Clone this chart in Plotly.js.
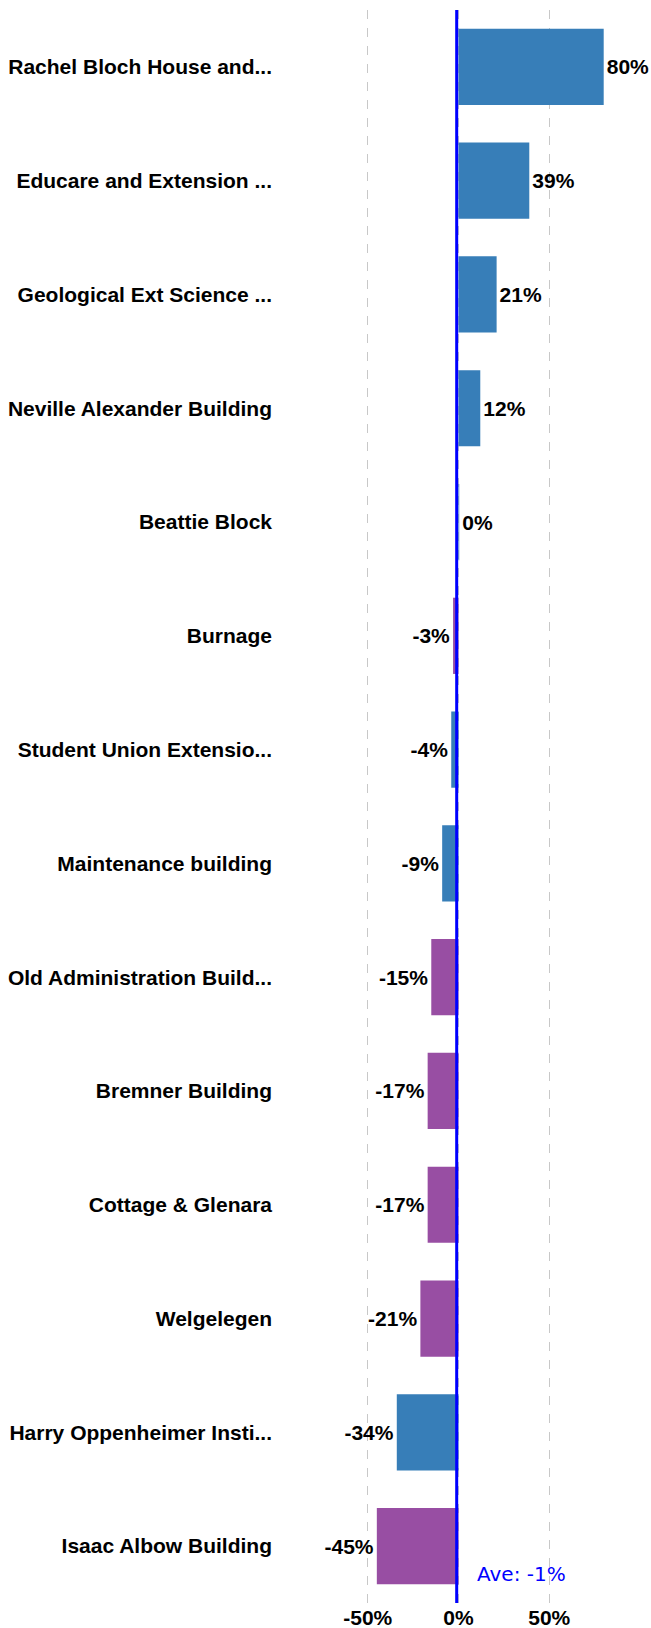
<!DOCTYPE html>
<html><head><meta charset="utf-8">
<script src="https://cdn.plot.ly/plotly-3.0.1.min.js"></script>
<style>body{margin:0;background:#fff}</style>
</head><body>
<div id="chart" style="width:651px;height:1628px"></div>
<script>
var categories = ["Rachel Bloch House and...","Educare and Extension ...","Geological Ext Science ...","Neville Alexander Building","Beattie Block","Burnage","Student Union Extensio...","Maintenance building","Old Administration Build...","Bremner Building","Cottage & Glenara","Welgelegen","Harry Oppenheimer Insti...","Isaac Albow Building"];
var values = [80, 39, 21, 12, 0.4, -3, -4, -9, -15, -17, -17, -21, -34, -45];
var labels = ["80%","39%","21%","12%","0%","-3%","-4%","-9%","-15%","-17%","-17%","-21%","-34%","-45%"];
var groups = ["blue","blue","blue","blue","blue","purple","blue","blue","purple","purple","purple","purple","blue","purple"];
var average = -1;
var tickVals = [-50, 0, 50];
var tickText = ["-50%","0%","50%"];

var palette = {blue:"#377eb8", purple:"#984ea3"};
var trace = {
  type:"bar", orientation:"h", y:categories, x:values,
  marker:{color:groups.map(function(g){return palette[g];})},
  width:0.67,
  text:labels, textposition:"outside", cliponaxis:false,
  textfont:{family:"Liberation Sans, Arial, sans-serif", size:21, color:"#000", weight:"bold"},
  hoverinfo:"none"
};
var layout = {
  width:651, height:1628,
  margin:{l:277, r:11, t:10, b:25},
  paper_bgcolor:"#fff", plot_bgcolor:"#fff",
  showlegend:false,
  font:{family:"Liberation Sans, Arial, sans-serif", size:21, color:"#000", weight:"bold"},
  xaxis:{range:[-100,100], tickvals:tickVals, ticktext:tickText, showgrid:true, gridcolor:"#c8c8c8", griddash:"dash", gridwidth:1, zeroline:false, showline:false, ticks:"", tickfont:{size:21, weight:"bold"}},
  yaxis:{autorange:"reversed", showgrid:false, zeroline:false, showline:false, ticks:"", ticklabelstandoff:4, tickfont:{size:21, weight:"bold"}, automargin:false},
  shapes:[{type:"line", xref:"x", yref:"paper", x0:average, x1:average, y0:0, y1:1, line:{color:"#0000ff", width:3}}],
  annotations:[{xref:"x", yref:"paper", x:average, y:0.018, xanchor:"left", yanchor:"middle", xshift:18, text:"Ave: " + average + "%", showarrow:false, font:{family:"DejaVu Sans, Verdana, sans-serif", size:20, color:"#0000ff", weight:"normal"}}]
};
Plotly.newPlot("chart", [trace], layout, {displayModeBar:false, staticPlot:true});
</script>
</body></html>
